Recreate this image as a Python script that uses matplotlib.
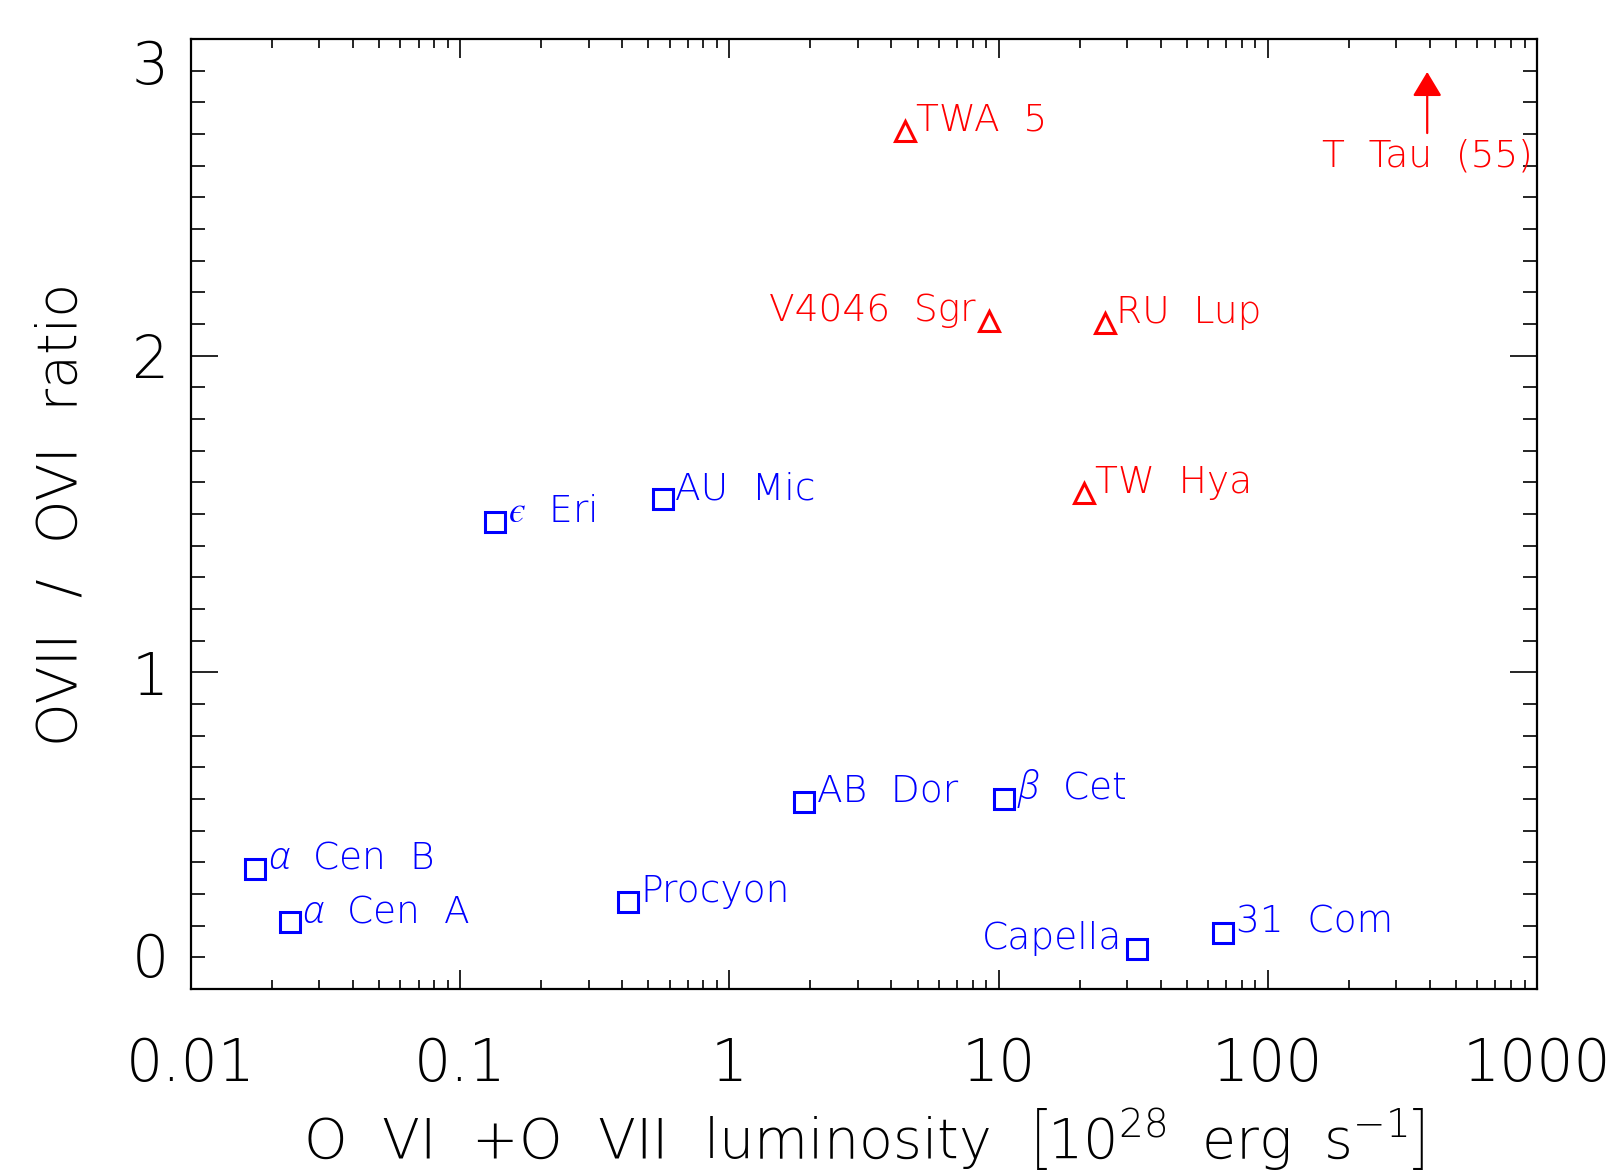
import matplotlib
matplotlib.use('Agg')
import matplotlib.pyplot as plt
from matplotlib.ticker import FixedLocator, MultipleLocator, LogLocator, NullFormatter

# ---------------- data ----------------
# cool / active main-sequence stars (blue squares)
cool_names = ['$\u03b1$  Cen  B', '$\u03b1$  Cen  A', '$\u03f5$  Eri', 'AU  Mic',
              'Procyon', 'AB  Dor', '$\u03b2$  Cet', 'Capella', '31  Com']
cool_lum = [0.0173, 0.0233, 0.135, 0.565, 0.419, 1.90, 10.5, 32.7, 68.3]
cool_ratio = [0.379, 0.211, 1.476, 1.546, 0.274, 0.591, 0.599, 0.126, 0.177]

# accreting young stars (red triangles)
ctts_names = ['TWA  5', 'V4046  Sgr', 'RU  Lup', 'TW  Hya']
ctts_lum = [4.49, 9.25, 24.9, 20.8]
ctts_ratio = [2.71, 2.108, 2.104, 1.565]

# T Tau: off-scale (ratio 55), drawn as lower-limit arrow
ttau_name = 'T  Tau  (55)'
ttau_lum = 391.0
ttau_arrow_from = 2.703
ttau_arrow_to = 2.896

right_aligned = {'Capella', 'V4046  Sgr'}

xticks = [0.01, 0.1, 1, 10, 100, 1000]
xticklabels = ['0.01', '0.1', '1', '10', '100', '1000']
yticks = [0, 1, 2, 3]
yticklabels = ['0', '1', '2', '3']

xlabel = r'O  VI  +O  VII  luminosity  $\left[\mathregular{10^{28}\ \ erg\ \ s^{-1}}\right]$'
ylabel = 'OVII  /  OVI  ratio'

# ---------------- style ----------------
FW = 200
plt.rcParams['font.family'] = ['DejaVu Sans']
plt.rcParams['font.weight'] = FW
plt.rcParams['axes.labelweight'] = FW
plt.rcParams['mathtext.fontset'] = 'custom'
plt.rcParams['mathtext.rm'] = 'DejaVu Sans:weight=200'
plt.rcParams['mathtext.it'] = 'Open Sans:italic:weight=300'
plt.rcParams['mathtext.bf'] = 'DejaVu Sans:bold'

BLUE = '#0000ff'
RED = '#ff0000'

W, H = 1621, 1170
fig = plt.figure(figsize=(W / 100, H / 100), dpi=100)
ax = fig.add_axes([191 / W, 1 - 989 / H, 1346 / W, 950 / H])

ax.set_xscale('log')
ax.set_xlim(0.01, 1000)
ax.set_ylim(0, 3)

# markers
ax.plot(cool_lum, cool_ratio, linestyle='none', marker='s', markersize=14,
        markerfacecolor='none', markeredgecolor=BLUE, markeredgewidth=2.2)
ax.plot(ctts_lum, ctts_ratio, linestyle='none', marker='^', markersize=14,
        markerfacecolor='none', markeredgecolor=RED, markeredgewidth=2.2)

LABEL_FS = 27
for n, x, y in zip(cool_names, cool_lum, cool_ratio):
    right = n in right_aligned
    ax.annotate(n, (x, y), xytext=(-11 if right else 9, 0), textcoords='offset points',
                ha='right' if right else 'left', va='baseline', color=BLUE,
                fontsize=LABEL_FS)
for n, x, y in zip(ctts_names, ctts_lum, ctts_ratio):
    right = n in right_aligned
    ax.annotate(n, (x, y), xytext=(-10 if right else 8, 0), textcoords='offset points',
                ha='right' if right else 'left', va='baseline', color=RED,
                fontsize=LABEL_FS)

# T Tau arrow + label
ax.annotate('', xy=(ttau_lum, ttau_arrow_to), xytext=(ttau_lum, ttau_arrow_from),
            arrowprops=dict(arrowstyle='-|>,head_length=0.5,head_width=0.3',
                            color=RED, lw=1.6, mutation_scale=30,
                            shrinkA=0, shrinkB=0))
ax.annotate(ttau_name, (ttau_lum, ttau_arrow_from), xytext=(0, -24),
            textcoords='offset points', ha='center', va='baseline',
            color=RED, fontsize=LABEL_FS)

# ticks
ax.xaxis.set_major_locator(FixedLocator(xticks))
ax.set_xticklabels(xticklabels)
ax.xaxis.set_minor_locator(LogLocator(base=10, subs=range(2, 10), numticks=20))
ax.xaxis.set_minor_formatter(NullFormatter())
ax.yaxis.set_major_locator(FixedLocator(yticks))
ax.set_yticklabels(yticklabels)
ax.yaxis.set_minor_locator(MultipleLocator(0.1))

ax.tick_params(axis='both', which='both', direction='in', top=True, right=True,
               colors='black', width=1.2)
ax.tick_params(axis='x', which='major', length=13.5, pad=34, labelsize=42)
ax.tick_params(axis='x', which='minor', length=6.5)
ax.tick_params(axis='y', which='major', length=19.5, pad=16, labelsize=42)
ax.tick_params(axis='y', which='minor', length=10)

for sp in ax.spines.values():
    sp.set_linewidth(1.6)
    sp.set_color('black')

ylabs = ax.get_yticklabels()
ylabs[0].set_verticalalignment('bottom')
ylabs[-1].set_verticalalignment('top')

# axis labels
ax.set_ylabel(ylabel, fontsize=40, fontweight=FW)
ax.yaxis.set_label_coords(-0.076, 0.5)
ax.set_xlabel(xlabel, fontsize=40, fontweight=FW)
ax.xaxis.set_label_coords(0.5, -0.178)
ax.xaxis.label.set_verticalalignment('baseline')

fig.savefig('out.png', dpi=100)
